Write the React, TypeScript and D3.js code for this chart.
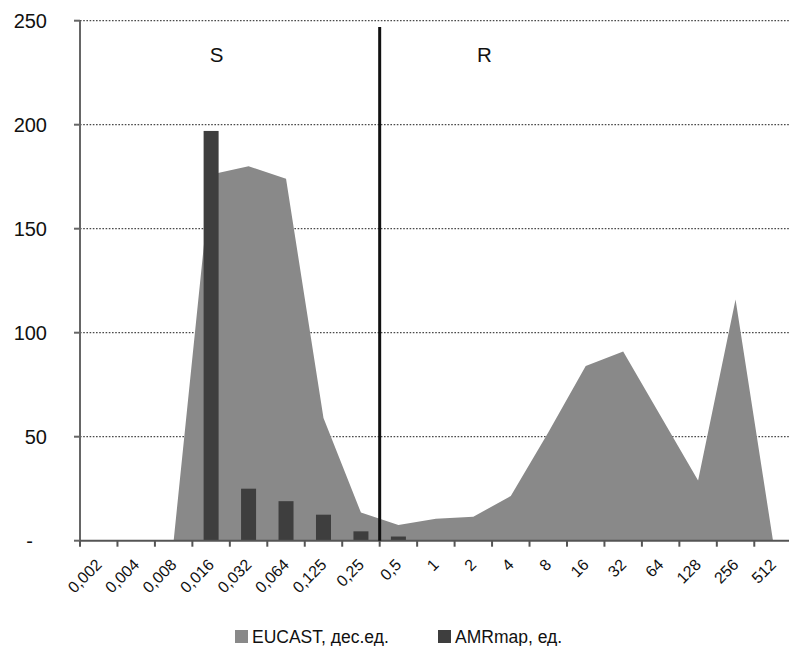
import React from "react";
import * as d3 from "d3";

const categories = ["0,002","0,004","0,008","0,016","0,032","0,064","0,125","0,25","0,5","1","2","4","8","16","32","64","128","256","512"];
const eucast = [0,0,0,176,180,174,59,13.5,7.5,10.6,11.5,21.5,52,84,91,60,29,116,0];
const amrmap = [0,0,0,197,25,19,12.5,4.5,2,0,0,0,0,0,0,0,0,0,0];
const yTicks = [0,50,100,150,200,250];
const zoneLabels = [{ text: "S", x: 216.5 }, { text: "R", x: 484.5 }];
const legendItems = [{ label: "EUCAST, дес.ед.", color: "#898989", x: 235 }, { label: "AMRmap, ед.", color: "#3e3e3e", x: 438 }];

const W = 789, H = 646;
const left = 80, bandW = 37.46, top = 20.7, bottom = 540.7;
const font = "Liberation Sans, Arial, sans-serif";

export default function App() {
  const x = d3.scaleBand<string>().domain(categories).range([left, left + categories.length * bandW]).paddingInner(0).paddingOuter(0);
  const y = d3.scaleLinear().domain([0, 250]).range([bottom, top]);
  const cx = (c: string) => (x(c) as number) + x.bandwidth() / 2;
  const areaGen = d3.area<number>().x((_, i) => cx(categories[i])).y0(y(0)).y1((d) => y(d));
  const boundaries = categories.map((c) => x(c) as number);
  const splitX = x("0,5") as number;
  const barW = 15;
  return (
    <div style={{ position: "fixed", left: 0, top: 0 }}>
      <svg width={W} height={H} style={{ display: "block", background: "#fff" }}>
        <rect x={0} y={0} width={W} height={H} fill="#fff" />
        {/* grid */}
        {yTicks.filter((t) => t > 0).map((t) => (
          <line key={t} x1={left} x2={W} y1={y(t)} y2={y(t)} stroke="#4a4a4a" strokeWidth={1.3} strokeDasharray="1.6 1.6" />
        ))}
        {/* area */}
        <path d={areaGen(eucast) || ""} fill="#898989" />
        {/* bars */}
        {amrmap.map((v, i) => v > 0 ? (
          <rect key={i} x={cx(categories[i]) - barW / 2} y={y(v)} width={barW} height={y(0) - y(v)} fill="#3e3e3e" />
        ) : null)}
        {/* y axis */}
        <line x1={left} x2={left} y1={top} y2={bottom} stroke="#666" strokeWidth={2} />
        {yTicks.map((t) => (
          <g key={t}>
            <line x1={left - 6} x2={left} y1={y(t)} y2={y(t)} stroke="#666" strokeWidth={2} />
            <text x={t === 0 ? 33 : 47} y={y(t) + 7} textAnchor="end" fontFamily={font} fontSize={20} fill="#111">{t === 0 ? "-" : String(t)}</text>
          </g>
        ))}
        {/* x axis */}
        <line x1={left} x2={W} y1={bottom} y2={bottom} stroke="#555" strokeWidth={2} />
        {boundaries.map((b, i) => (
          <line key={i} x1={b} x2={b} y1={bottom} y2={bottom + 6} stroke="#555" strokeWidth={2} />
        ))}
        {categories.map((c) => (
          <text key={c} transform={`translate(${cx(c) + 4},${bottom + 25}) rotate(-45)`} textAnchor="end" fontFamily={font} fontSize={16} fill="#111">{c}</text>
        ))}
        {/* split line */}
        <line x1={splitX} x2={splitX} y1={27} y2={bottom} stroke="#111" strokeWidth={3} />
        {zoneLabels.map((z) => (
          <text key={z.text} x={z.x} y={62} textAnchor="middle" fontFamily={font} fontSize={20.5} fill="#111">{z.text}</text>
        ))}
        {/* legend */}
        {legendItems.map((l) => (
          <g key={l.label}>
            <rect x={l.x} y={630} width={13} height={13} fill={l.color} />
            <text x={l.x + 17} y={643} fontFamily={font} fontSize={17.5} fill="#111">{l.label}</text>
          </g>
        ))}
      </svg>
    </div>
  );
}
